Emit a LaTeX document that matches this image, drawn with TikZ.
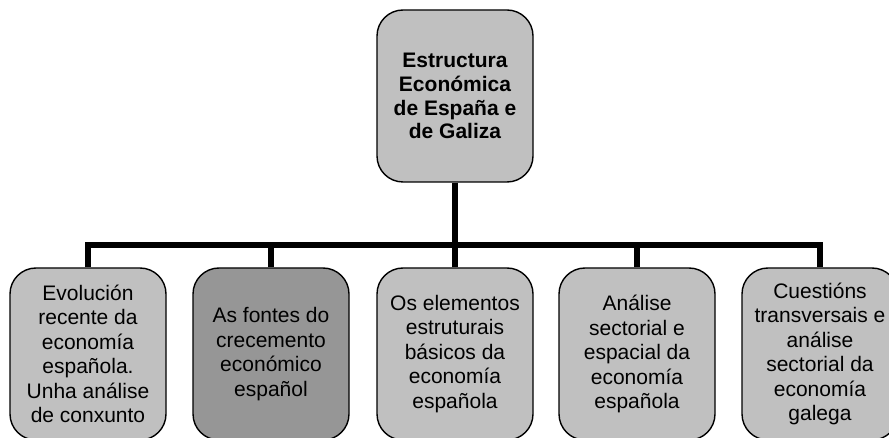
\documentclass[tikz,border=0pt]{standalone}
\usepackage{fontspec}
\setmainfont{Liberation Sans}
\definecolor{boxlight}{RGB}{192,192,192}
\definecolor{boxdark}{RGB}{150,150,150}
\tikzset{
  topicbox/.style={draw=black, line width=1.4pt, rounded corners=26pt, fill=boxlight,
    minimum width=156pt, minimum height=172pt, inner sep=0pt, align=center,
    font=\fontsize{21}{24.5}\selectfont},
  darkbox/.style={topicbox, fill=boxdark},
  connector/.style={line width=6pt, black}
}
\begin{document}
\begin{tikzpicture}[x=1pt, y=-1pt]
\useasboundingbox (0,0) rectangle (889,438);
\fill[white] (0,0) rectangle (889,438);
\node[topicbox, font=\bfseries\fontsize{21}{23.8}\selectfont] (root) at (455,96) {Estructura\\Económica\\de España e\\de Galiza};
\node[topicbox] (c1) at (88,354) {Evolución\\recente da\\economía\\española.\\Unha análise\\de conxunto};
\node[darkbox] (c2) at (271,354) {As fontes do\\crecemento\\económico\\español};
\node[topicbox] (c3) at (455,354) {Os elementos\\estruturais\\básicos da\\economía\\española};
\node[topicbox] (c4) at (637,354) {Análise\\sectorial e\\espacial da\\economía\\española};
\node[topicbox] (c5) at (820,354) {Cuestións\\transversais e\\análise\\sectorial da\\economía\\galega};
\coordinate (barL) at (88,245);
\coordinate (barR) at (820,245);
\draw[connector] (c1.north) -- (barL) -- (barR) -- (c5.north);
\draw[connector] (root.south) -- (root.south |- barL);
\draw[connector] (c2.north) -- (c2.north |- barL);
\draw[connector] (c3.north) -- (c3.north |- barL);
\draw[connector] (c4.north) -- (c4.north |- barL);
\end{tikzpicture}
\end{document}
